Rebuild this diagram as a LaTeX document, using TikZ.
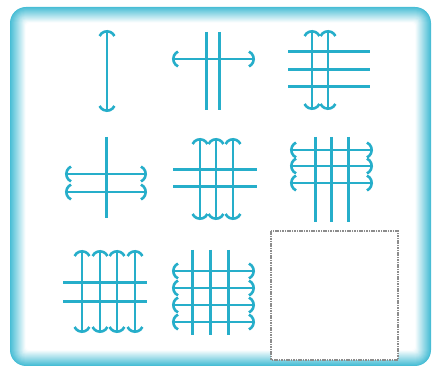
\documentclass[tikz,border=0pt]{standalone}
\usetikzlibrary{arrows.meta}
\definecolor{frame}{RGB}{40,178,206}
\definecolor{ln}{RGB}{38,174,202}
\tikzset{
  bar/.style={draw=ln, line width=3pt},
  dbl/.style={draw=ln, line width=2.6pt, {Arc Barb[arc=130,width=19pt,length=9.5pt]}-{Arc Barb[arc=130,width=19pt,length=9.5pt]}},
  blank/.style={draw=gray!90, fill=white, line width=1.4pt, dash pattern=on 1.6pt off 0.8pt}
}
\begin{document}
\begin{tikzpicture}[x=1pt,y=-1pt]
\useasboundingbox (0,0) rectangle (432,366);
% frame with soft gradient border
\foreach \i [evaluate=\i as \p using 85-5.5*\i, evaluate=\i as \r using {max(16-\i,3)}] in {0,...,15}
  \fill[frame!\p!white, rounded corners=\r pt] (10+\i,7+\i) rectangle (431-\i,366-\i);
\fill[white, rounded corners=3pt] (26,23) rectangle (415,350);
% cell 1
\draw[dbl] (107,30) -- (107,112);
% cell 2
\draw[bar] (206,32) -- (206,110);
\draw[bar] (219,32) -- (219,110);
\draw[dbl] (172,59) -- (255,59);
% cell 3
\foreach \y in {52,70,87} \draw[bar] (288,\y) -- (370,\y);
\foreach \x in {312,328} \draw[dbl] (\x,30) -- (\x,110);
% cell 4
\draw[bar] (106,137) -- (106,218);
\foreach \y in {174,192} \draw[dbl] (65,\y) -- (147,\y);
% cell 5
\foreach \y in {170,187} \draw[bar] (173,\y) -- (257,\y);
\foreach \x in {200,216,233} \draw[dbl] (\x,138) -- (\x,220);
% cell 6
\foreach \x in {315,331,348} \draw[bar] (\x,137) -- (\x,222);
\foreach \y in {150,166,183} \draw[dbl] (290,\y) -- (373,\y);
% cell 7
\foreach \x in {82,100,117,135} \draw[dbl] (\x,250) -- (\x,333);
\foreach \y in {283,302} \draw[bar] (63,\y) -- (147,\y);
% cell 8
\foreach \x in {192,210,228} \draw[bar] (\x,250) -- (\x,335);
\foreach \y in {271,288,305,322} \draw[dbl] (172,\y) -- (255,\y);
% cell 9
\draw[blank] (271,231) rectangle (398,360);
\end{tikzpicture}
\end{document}
